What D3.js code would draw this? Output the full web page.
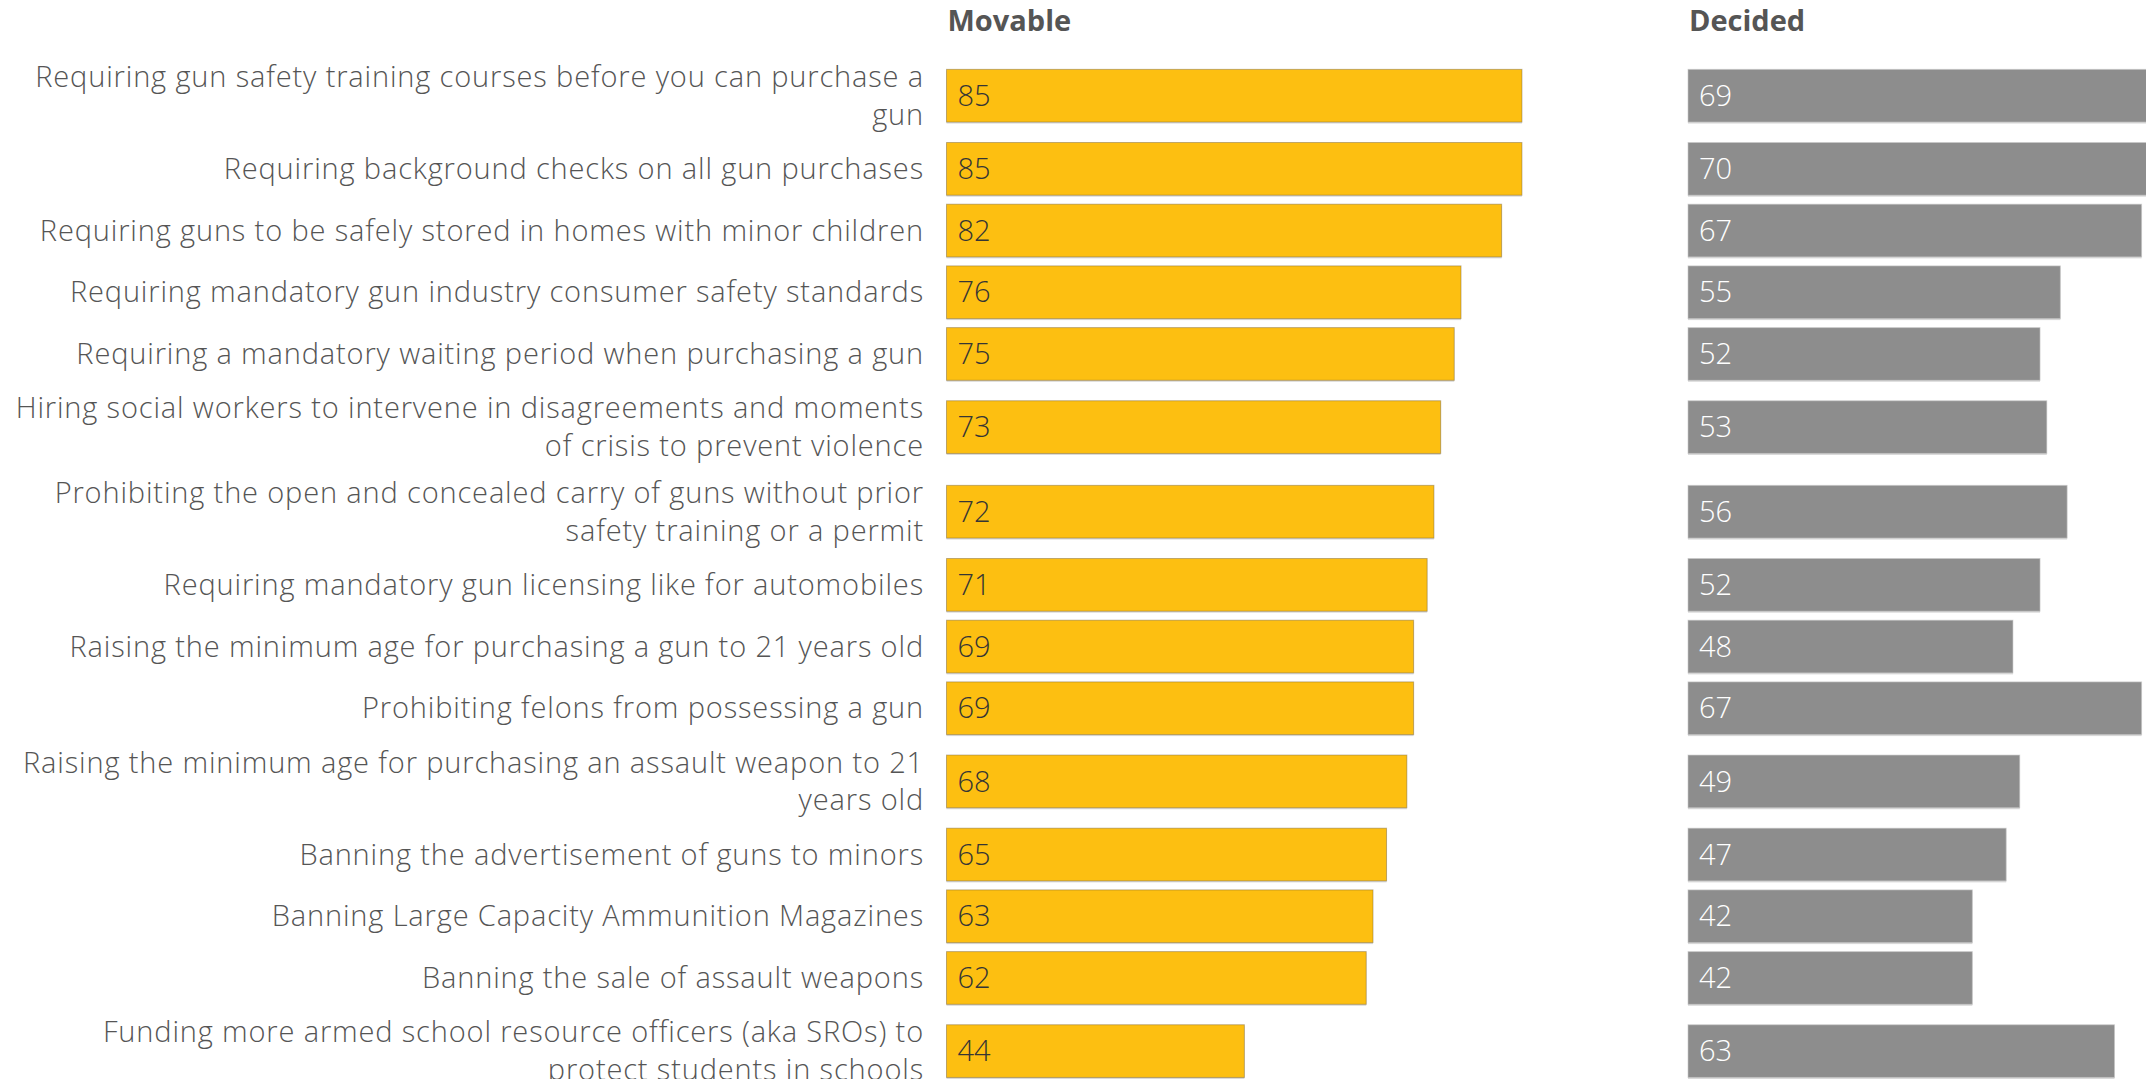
<!DOCTYPE html>
<html>
<head>
<meta charset="utf-8">
<script src="https://cdn.jsdelivr.net/npm/d3@7"></script>
<style>
  html, body { margin: 0; padding: 0; background: #fff; overflow: hidden; }
  svg { display: block; }
  text { font-family: "Open Sans", Lato, sans-serif; }
</style>
</head>
<body>
<svg id="chart" width="2146" height="1079"></svg>
<script>
// ---- data ----
const categories = [
  "Requiring gun safety training courses before you can purchase a\ngun",
  "Requiring background checks on all gun purchases",
  "Requiring guns to be safely stored in homes with minor children",
  "Requiring mandatory gun industry consumer safety standards",
  "Requiring a mandatory waiting period when purchasing a gun",
  "Hiring social workers to intervene in disagreements and moments\nof crisis to prevent violence",
  "Prohibiting the open and concealed carry of guns without prior\nsafety training or a permit",
  "Requiring mandatory gun licensing like for automobiles",
  "Raising the minimum age for purchasing a gun to 21 years old",
  "Prohibiting felons from possessing a gun",
  "Raising the minimum age for purchasing an assault weapon to 21\nyears old",
  "Banning the advertisement of guns to minors",
  "Banning Large Capacity Ammunition Magazines",
  "Banning the sale of assault weapons",
  "Funding more armed school resource officers (aka SROs) to\nprotect students in schools"
];
const movable = [85, 85, 82, 76, 75, 73, 72, 71, 69, 69, 68, 65, 63, 62, 44];
const decided = [69, 70, 67, 55, 52, 53, 56, 52, 48, 67, 49, 47, 42, 42, 63];
const seriesNames = ["Movable", "Decided"];

// ---- layout ----
const W = 2146, H = 1079;
const barH = 52.7, lineH = 37.8, rowPad = 9;
const topStart = 53.4;
const labelRight = 924;
const panelX = [946.5, 1688];

const svg = d3.select("#chart");

const x = d3.scaleLinear().domain([0, 100]).range([0, 677]);

const lines = categories.map(c => c.split("\n"));
const centers = [];
let cur = topStart;
lines.forEach(l => {
  const h = Math.max(barH, l.length * lineH) + rowPad;
  centers.push(cur + h / 2);
  cur += h;
});
const y = d3.scaleOrdinal().domain(categories).range(centers);

svg.append("defs").append("clipPath").attr("id", "clip")
  .append("rect").attr("x", 0).attr("y", 0).attr("width", W).attr("height", H);

const g = svg.append("g").attr("clip-path", "url(#clip)");

// category labels
const lab = g.append("g").selectAll("text")
  .data(categories)
  .join("text")
  .attr("text-anchor", "end")
  .attr("font-size", 29)
  .attr("font-weight", 300)
  .attr("letter-spacing", "0.85px")
  .attr("fill", "#555555");
lab.each(function(d) {
  const ls = d.split("\n");
  const c = y(d);
  const t = d3.select(this);
  ls.forEach((line, i) => {
    t.append("tspan")
      .attr("x", labelRight)
      .attr("y", c + (i - (ls.length - 1) / 2) * lineH)
      .attr("dy", "0.35em")
      .text(line);
  });
});

const panels = [
  { name: seriesNames[0], values: movable, color: "#fdbf11", text: "#353535", stroke: "rgba(120,100,60,0.45)" },
  { name: seriesNames[1], values: decided, color: "#8d8d8d", text: "#ffffff", stroke: "rgba(200,200,200,0.6)" }
];

panels.forEach((p, pi) => {
  const pg = g.append("g").attr("transform", `translate(${panelX[pi]},0)`);
  pg.append("text")
    .attr("x", 1).attr("y", 31)
    .attr("font-size", 29)
    .attr("font-weight", 700)
    .attr("fill", "#555555")
    .text(p.name);

  const rows = pg.selectAll("g.row")
    .data(categories.map((c, i) => ({ c, v: p.values[i] })))
    .join("g").attr("class", "row");

  rows.append("rect")
    .attr("x", 0)
    .attr("y", d => y(d.c) - barH / 2 + 1.5)
    .attr("width", d => x(d.v))
    .attr("height", barH)
    .attr("fill", "#d9d9d9");

  rows.append("rect")
    .attr("x", 0)
    .attr("y", d => y(d.c) - barH / 2)
    .attr("width", d => x(d.v))
    .attr("height", barH)
    .attr("fill", p.color)
    .attr("stroke", p.stroke)
    .attr("stroke-width", 1);

  rows.append("text")
    .attr("x", 11)
    .attr("y", d => y(d.c))
    .attr("dy", "0.35em")
    .attr("font-size", 29)
    .attr("font-weight", 300)
    .attr("fill", p.text)
    .text(d => d.v);
});
</script>
</body>
</html>
